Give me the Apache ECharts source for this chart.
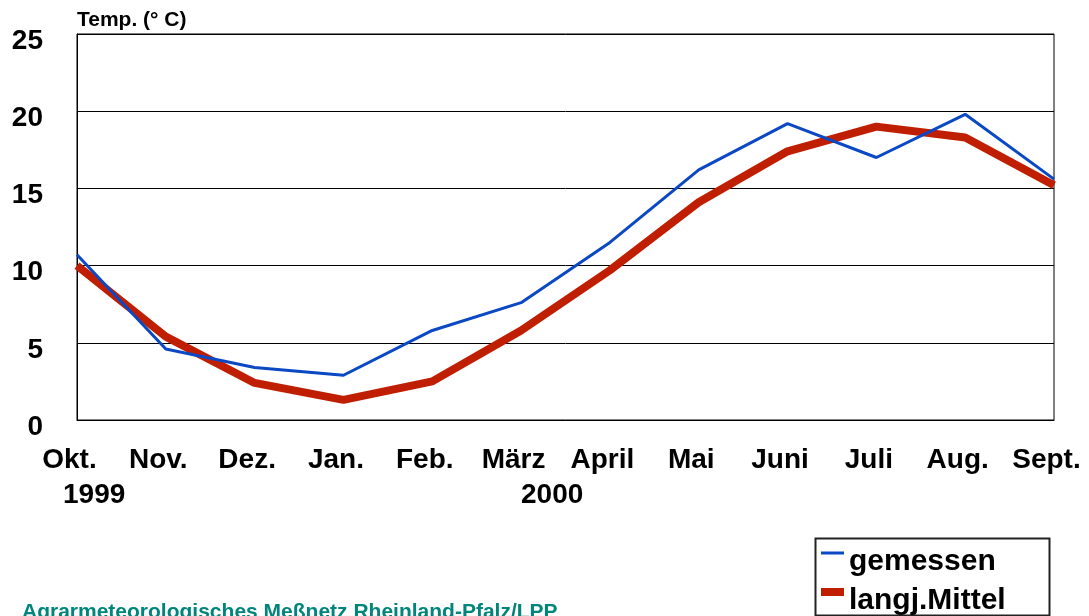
<!DOCTYPE html>
<html>
<head>
<meta charset="utf-8">
<script src="https://cdn.jsdelivr.net/npm/echarts@6/dist/echarts.min.js"></script>
<style>
  html, body { margin: 0; padding: 0; background: #fff; }
  #chart { width: 1089px; height: 616px; }
</style>
</head>
<body>
<div id="chart"></div>
<script>
// Monate Okt. 1999 bis Sept. 2000
const monate = ['Okt.', 'Nov.', 'Dez.', 'Jan.', 'Feb.', 'März', 'April', 'Mai', 'Juni', 'Juli', 'Aug.', 'Sept.'];
// gemessene Monatsmittel (°C)
const gemessen = [10.7, 4.6, 3.4, 2.9, 5.8, 7.6, 11.5, 16.2, 19.2, 17.0, 19.8, 15.6];
// langjähriges Mittel (°C)
const langjMittel = [10.0, 5.4, 2.4, 1.3, 2.5, 5.8, 9.7, 14.1, 17.4, 19.0, 18.3, 15.2];
const yTicks = [0, 5, 10, 15, 20, 25];

const font = 'Liberation Sans, Arial, sans-serif';

const chart = echarts.init(document.getElementById('chart'));
chart.setOption({
  animation: false,
  textStyle: { fontFamily: font },
  grid: {
    left: 77, right: 35, top: 34, bottom: 196,
    show: true, borderColor: '#000', borderWidth: 1
  },
  legend: {
    orient: 'vertical',
    left: 821, top: 547,
    padding: 0,
    itemGap: 9,
    itemWidth: 23, itemHeight: 26,
    textStyle: { fontSize: 30, fontWeight: 'bold', color: '#000', fontFamily: font },
    data: [
      // Symbol sitzt oberhalb der Textmitte wie im Original
      { name: 'gemessen', icon: 'path://M0,0H0.01V0.01H0Z M0,2.5H23V5.5H0Z M0,25.99H0.01V26H0Z' },
      { name: 'langj.Mittel', icon: 'path://M0,0H23V8H0Z M0,25.99H0.01V26H0Z' }
    ]
  },
  xAxis: {
    type: 'category',
    data: monate,
    boundaryGap: false,
    axisLine: { lineStyle: { color: '#000', width: 1 } },
    axisTick: { show: false },
    axisLabel: {
      interval: 0, margin: 26, padding: [0, 15, 0, 0],
      fontSize: 28, fontWeight: 'bold', color: '#000', fontFamily: font
    },
    splitLine: { show: false }
  },
  yAxis: {
    type: 'value',
    min: yTicks[0], max: yTicks[yTicks.length - 1], interval: 5,
    name: 'Temp. (° C)',
    nameLocation: 'end',
    nameGap: 3,
    nameTextStyle: { align: 'left', fontSize: 21, fontWeight: 'bold', color: '#000', fontFamily: font },
    axisLine: { show: true, lineStyle: { color: '#000', width: 1 } },
    axisTick: { show: false },
    axisLabel: {
      margin: 34,
      formatter: '{v|{value}}',
      rich: {
        v: { padding: [14, 0, 0, 0], fontSize: 28, fontWeight: 'bold', color: '#000', fontFamily: font }
      }
    },
    splitLine: { lineStyle: { color: '#000', width: 1 } }
  },
  graphic: [
    { type: 'rect', left: 813, top: 536, shape: { width: 234, height: 77 }, style: { fill: 'none', stroke: '#222', lineWidth: 2 }, z: -1 },
    { type: 'text', left: 63, top: 481, style: { text: '1999', font: 'bold 28px ' + font, fill: '#000' } },
    { type: 'text', left: 521, top: 481, style: { text: '2000', font: 'bold 28px ' + font, fill: '#000' } },
    { type: 'text', left: 22, top: 602, style: { text: 'Agrarmeteorologisches Meßnetz Rheinland-Pfalz/LPP', font: 'bold 21px ' + font, fill: '#00857b' } }
  ],
  series: [
    {
      name: 'gemessen',
      type: 'line',
      data: gemessen,
      symbol: 'none',
      color: '#0a48c4',
      lineStyle: { width: 3, color: '#0a48c4' },
      z: 3
    },
    {
      name: 'langj.Mittel',
      type: 'line',
      data: langjMittel,
      symbol: 'none',
      color: '#c01e00',
      lineStyle: { width: 8, color: '#c01e00' },
      z: 2
    }
  ]
});
</script>
</body>
</html>
